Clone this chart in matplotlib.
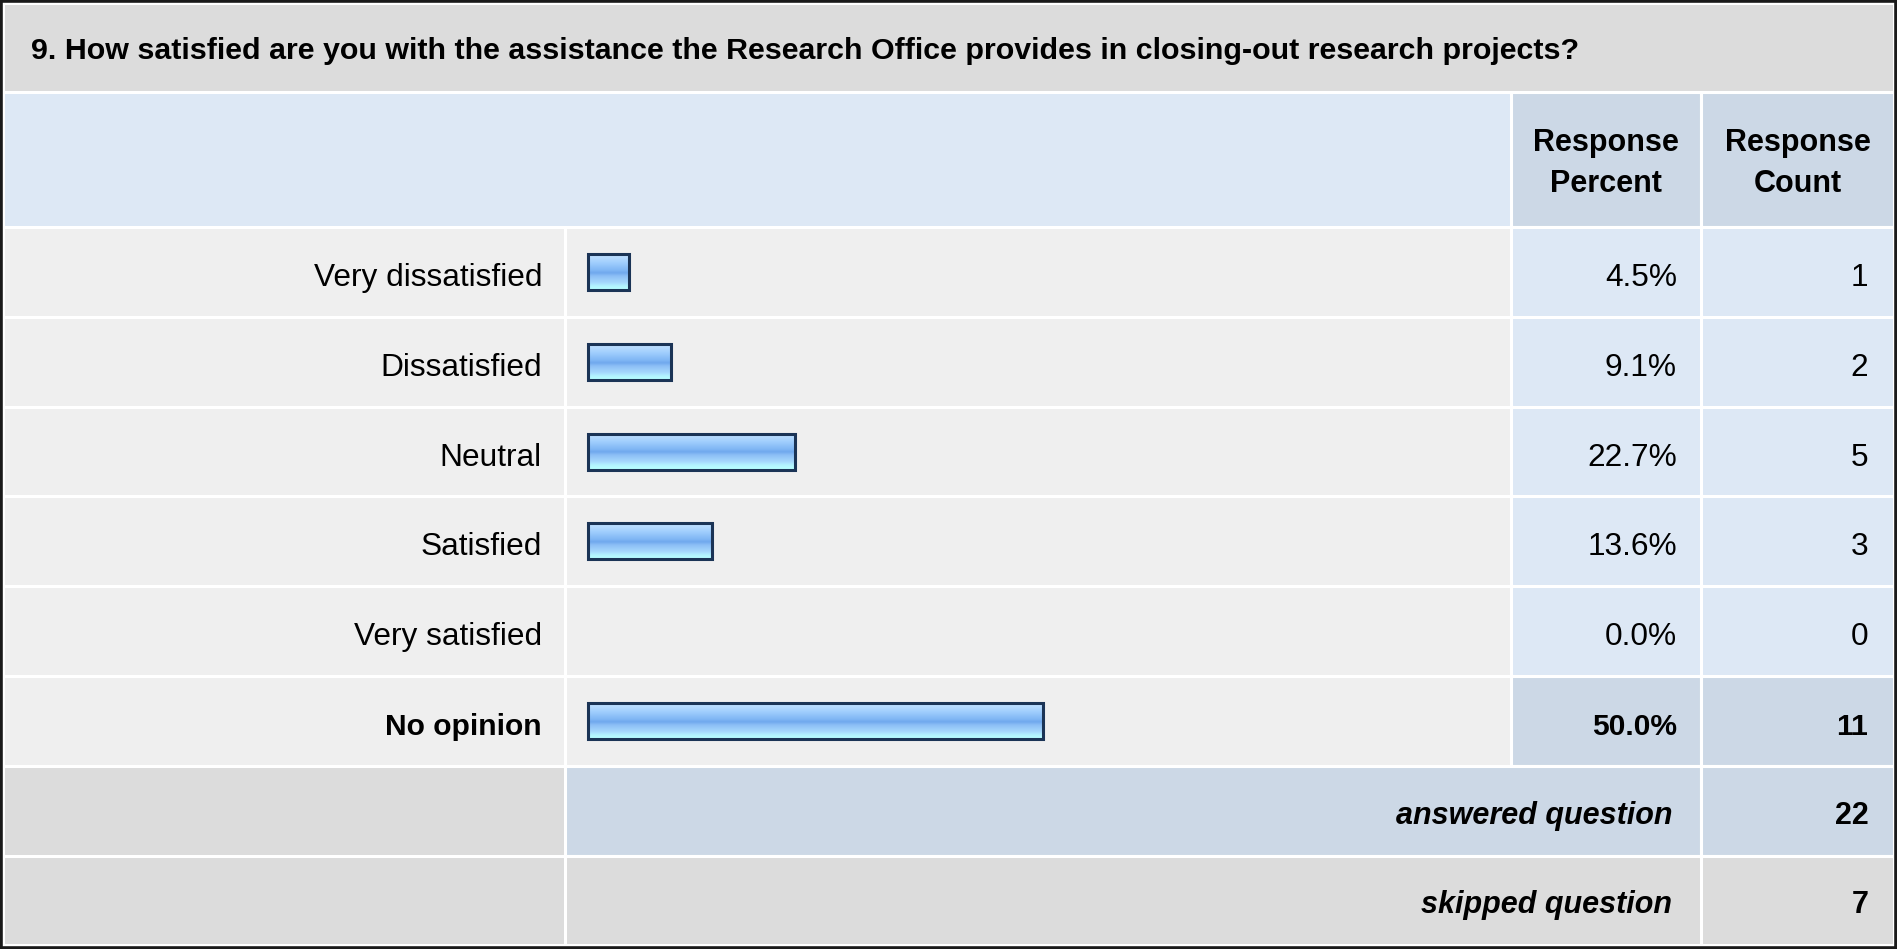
import numpy as np
import matplotlib
matplotlib.use('Agg')
from matplotlib import pyplot as plt
from matplotlib.patches import Rectangle
from matplotlib.colors import LinearSegmentedColormap

plt.rcParams['font.family'] = ['Liberation Sans', 'DejaVu Sans']

title = "9. How satisfied are you with the assistance the Research Office provides in closing-out research projects?"
categories = ['Very dissatisfied', 'Dissatisfied', 'Neutral', 'Satisfied', 'Very satisfied', 'No opinion']
percents = [4.5, 9.1, 22.7, 13.6, 0.0, 50.0]
counts = [1, 2, 5, 3, 0, 11]
answered = 22
skipped = 7

W, H = 1897, 949
GRAY = '#dcdcdc'
LIGHT = '#efefef'
BLUE1 = '#dde8f5'
BLUE2 = '#ccd8e6'
FS = 22

fig = plt.figure(figsize=(W / 100, H / 100), dpi=100)
ax = fig.add_axes([0, 0, 1, 1])
ax.set_xlim(0, W)
ax.set_ylim(H, 0)
ax.axis('off')

# column edges and row edges (pixels)
x_lab, x_bar, x_pct, x_cnt, x_end = 3, 565, 1511, 1701, 1894
title_top, title_bot = 3, 92
head_bot = 227
row_h = 89.8


def cell(x0, x1, y0, y1, color):
    ax.add_patch(Rectangle((x0, y0), x1 - x0, y1 - y0, facecolor=color,
                           edgecolor='white', linewidth=2.2, zorder=1))


fig.patch.set_facecolor('white')
cell(x_lab, x_end, title_top, title_bot, GRAY)
ax.text(31, (title_top + title_bot) / 2 + 3, title, fontsize=21.9, fontweight='bold',
        ha='left', va='center', zorder=3)

cell(x_lab, x_pct, title_bot, head_bot, BLUE1)
cell(x_pct, x_cnt, title_bot, head_bot, BLUE2)
cell(x_cnt, x_end, title_bot, head_bot, BLUE2)
ax.text((x_pct + x_cnt) / 2, (title_bot + head_bot) / 2 + 4, 'Response\nPercent', fontsize=FS,
        fontweight='bold', ha='center', va='center', linespacing=1.5, zorder=3)
ax.text((x_cnt + x_end) / 2, (title_bot + head_bot) / 2 + 4, 'Response\nCount', fontsize=FS,
        fontweight='bold', ha='center', va='center', linespacing=1.5, zorder=3)

cmap = LinearSegmentedColormap.from_list('bar', [
    (0.0, '#c4e2ff'), (0.25, '#9ecdfd'), (0.45, '#7fb6f4'), (0.52, '#70a8ee'),
    (0.62, '#8ec0f6'), (0.8, '#a6d8fd'), (0.9, '#b3f4ff'), (1.0, '#b8ffff')])
grad = np.linspace(0, 1, 64).reshape(-1, 1)

bar_left = 588
bar_scale = 9.1  # pixels per percent
row_centers = []
for i, (cat, p, c) in enumerate(zip(categories, percents, counts)):
    y0 = head_bot + i * row_h
    y1 = y0 + row_h
    yc = (y0 + y1) / 2
    row_centers.append(yc)
    last = cat == 'No opinion'
    cell(x_lab, x_bar, y0, y1, LIGHT)
    cell(x_bar, x_pct, y0, y1, LIGHT)
    cell(x_pct, x_cnt, y0, y1, BLUE2 if last else BLUE1)
    cell(x_cnt, x_end, y0, y1, BLUE2 if last else BLUE1)
    w = 'bold' if last else 'normal'
    fs = 21.6 if last else 22.8
    ax.text(x_bar - 23, yc + 6, cat, fontsize=fs, fontweight=w, ha='right', va='center', zorder=3)
    ax.text(x_cnt - 24, yc + 6, f'{p:.1f}%', fontsize=fs, fontweight=w, ha='right', va='center', zorder=3)
    ax.text(x_end - 26, yc + 6, str(c), fontsize=fs, fontweight=w, ha='right', va='center', zorder=3)

widths = [p * bar_scale for p in percents]
bars = ax.barh(row_centers, widths, left=bar_left, height=36, facecolor='none',
               edgecolor='#1b3456', linewidth=2.2, zorder=4)
for b, p in zip(bars, percents):
    if p <= 0:
        b.set_visible(False)
        continue
    x0, y0 = b.get_x(), b.get_y()
    im = ax.imshow(grad, cmap=cmap, aspect='auto', interpolation='bilinear',
                   extent=(x0, x0 + b.get_width(), y0 + b.get_height(), y0), zorder=3)
    im.set_clip_path(b)

y0 = head_bot + len(categories) * row_h
cell(x_lab, x_bar, y0, y0 + row_h, GRAY)
cell(x_bar, x_cnt, y0, y0 + row_h, BLUE2)
cell(x_cnt, x_end, y0, y0 + row_h, BLUE2)
ax.text(x_cnt - 29, y0 + row_h / 2 + 5, 'answered question', fontsize=FS, fontweight='bold',
        fontstyle='italic', ha='right', va='center', zorder=3)
ax.text(x_end - 25, y0 + row_h / 2 + 5, str(answered), fontsize=FS, fontweight='bold',
        ha='right', va='center', zorder=3)

y0 += row_h
cell(x_lab, x_bar, y0, y0 + row_h, GRAY)
cell(x_bar, x_cnt, y0, y0 + row_h, GRAY)
cell(x_cnt, x_end, y0, y0 + row_h, GRAY)
ax.text(x_cnt - 29, y0 + row_h / 2 + 5, 'skipped question', fontsize=FS, fontweight='bold',
        fontstyle='italic', ha='right', va='center', zorder=3)
ax.text(x_end - 25, y0 + row_h / 2 + 5, str(skipped), fontsize=FS, fontweight='bold',
        ha='right', va='center', zorder=3)

# outer frame
ax.add_patch(Rectangle((1, 1), W - 2.5, H - 2.5, facecolor='none', edgecolor='#1a1a1a',
                       linewidth=2.6, zorder=6))

fig.savefig('out.png', dpi=100)
